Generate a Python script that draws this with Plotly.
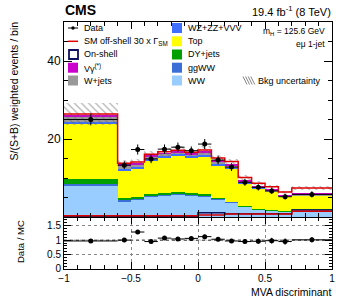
import plotly.graph_objects as go
import numpy as np

# ---------------- data ----------------
bin_edges = [-1.0, -0.6, -0.5, -0.4, -0.3, -0.2, -0.1, 0.0, 0.1, 0.2, 0.3, 0.4, 0.5, 0.6, 0.7, 1.0]

ww      = [8.0, 4.1, 4.5, 5.3, 5.5, 5.7, 5.5, 5.3, 4.4, 3.6, 2.6, 1.9, 1.6, 1.3, 1.8]
ggww    = [0.4, 0.3, 0.3, 0.3, 0.3, 0.3, 0.3, 0.3, 0.3, 0.25, 0.2, 0.15, 0.15, 0.15, 0.2]
dy      = [1.3, 0.4, 0.3, 0.3, 0.35, 0.35, 0.35, 0.3, 0.1, 0.05, 0.05, 0.03, 0.03, 0.03, 0.03]
top     = [14.1, 7.2, 7.4, 8.7, 9.15, 9.35, 9.05, 9.6, 8.5, 8.6, 5.75, 5.3, 4.7, 3.7, 3.4]
wzzz    = [0.6, 0.4, 0.35, 0.35, 0.35, 0.35, 0.35, 0.35, 0.4, 0.3, 0.2, 0.15, 0.15, 0.12, 0.15]
wjets   = [1.3, 0.8, 0.7, 0.6, 0.55, 0.55, 0.55, 0.6, 0.65, 0.45, 0.35, 0.25, 0.25, 0.2, 0.25]
vgamma  = [0.4, 0.3, 0.25, 0.25, 0.2, 0.2, 0.2, 0.25, 0.25, 0.15, 0.15, 0.1, 0.1, 0.08, 0.1]
offshell = [0.3, 0.3, 0.3, 0.3, 0.3, 0.3, 0.3, 0.5, 0.5, 0.8, 0.8, 0.8, 0.8, 0.8, 1.5]
onshell  = [0.15, 0.15, 0.15, 0.15, 0.15, 0.15, 0.15, 1.1, 1.1, 0.85, 0.85, 0.85, 0.85, 0.85, 1.8]
bkg_unc  = [2.8, 0.9, 0.8, 0.9, 1.0, 1.0, 0.9, 1.0, 0.9, 0.8, 0.6, 0.5, 0.5, 0.4, 0.6]

data     = [25.0, 13.3, 17.3, 14.9, 17.4, 17.9, 17.0, 18.7, 14.6, 12.8, 8.9, 7.6, 6.7, 5.2, 5.8]
data_err = [1.5, 1.0, 1.3, 1.1, 1.2, 1.2, 1.1, 1.3, 1.1, 1.0, 0.9, 0.8, 0.8, 0.7, 0.8]

ratio     = [0.97, 1.00, 1.28, 0.95, 1.07, 1.04, 1.06, 1.12, 1.03, 0.97, 0.95, 0.96, 0.98, 0.95, 1.01]
ratio_err = [0.05, 0.06, 0.07, 0.06, 0.06, 0.06, 0.06, 0.06, 0.07, 0.07, 0.08, 0.09, 0.1, 0.11, 0.09]
ratio_band = [0.04] * 15

x_tickvals = [-1, -0.5, 0, 0.5, 1]
x_ticktext = ["\u22121", "\u22120.5", "0", "0.5", "1"]

# ---------------- derived ----------------
e = np.array(bin_edges)
centers = (e[:-1] + e[1:]) / 2
widths = e[1:] - e[:-1]
half = widths / 2

components = [
    ("WW", ww, "#99ccff"),
    ("ggWW", ggww, "#3a6fd8"),
    ("DY+jets", dy, "#00a000"),
    ("Top", top, "#ffff00"),
    ("WZ+ZZ+VVV", wzzz, "#3f6fff"),
    ("W+jets", wjets, "#999999"),
    ("Vgamma", vgamma, "#cc00cc"),
]

FONT = "Liberation Sans, Arial, sans-serif"
fig = go.Figure()

cum = np.zeros(len(centers))
for name, vals, col in components:
    v = np.array(vals)
    fig.add_trace(go.Bar(x=centers, y=v, base=cum.copy(), width=widths,
                         marker=dict(color=col, line=dict(width=0)), opacity=1,
                         xaxis="x2", yaxis="y2", showlegend=False, name=name))
    cum = cum + v
total = cum

def steps(vals):
    return list(e), list(vals) + [vals[-1]]

red_top = total + np.array(offshell)

# bkg uncertainty hatch
unc = np.array(bkg_unc)
fig.add_trace(go.Bar(x=centers, y=2 * unc, base=red_top - unc, width=widths,
                     marker=dict(color="rgba(0,0,0,0)", line=dict(width=0),
                                 pattern=dict(shape="\\", fgcolor="#666666", size=5, solidity=0.25)),
                     xaxis="x2", yaxis="y2", showlegend=False))

sx, sy = steps(red_top)
fig.add_trace(go.Scatter(x=sx, y=sy, mode="lines", line=dict(color="#dd0000", width=1.5, shape="hv"),
                         xaxis="x2", yaxis="y2", showlegend=False))
sx, sy = steps(onshell)
fig.add_trace(go.Scatter(x=sx, y=sy, mode="lines", line=dict(color="#101060", width=1.5, shape="hv"),
                         xaxis="x2", yaxis="y2", showlegend=False))
sx, sy = steps(offshell)
fig.add_trace(go.Scatter(x=sx, y=sy, mode="lines", line=dict(color="#dd0000", width=1.5, shape="hv"),
                         xaxis="x2", yaxis="y2", showlegend=False))

fig.add_trace(go.Scatter(x=centers, y=data, mode="markers",
                         marker=dict(color="black", size=5),
                         error_x=dict(type="data", array=half, width=0, thickness=1, color="black"),
                         error_y=dict(type="data", array=data_err, width=0, thickness=1, color="black"),
                         xaxis="x2", yaxis="y2", showlegend=False))

# ratio panel
rb = np.array(ratio_band)
fig.add_trace(go.Bar(x=centers, y=2 * rb, base=1 - rb, width=widths,
                     marker=dict(color="rgba(0,0,0,0)", line=dict(width=0),
                                 pattern=dict(shape="\\", fgcolor="#888888", size=4, solidity=0.3)),
                     xaxis="x", yaxis="y", showlegend=False))
fig.add_trace(go.Scatter(x=[-1, 1], y=[1, 1], mode="lines", line=dict(color="#555555", width=1, dash="dot"),
                         xaxis="x", yaxis="y", showlegend=False))
fig.add_trace(go.Scatter(x=centers, y=ratio, mode="markers",
                         marker=dict(color="black", size=5),
                         error_x=dict(type="data", array=half, width=0, thickness=1, color="black"),
                         error_y=dict(type="data", array=ratio_err, width=0, thickness=1, color="black"),
                         xaxis="x", yaxis="y", showlegend=False))

SPLIT = 0.2105
axis_common = dict(ticks="inside", showline=True, linecolor="black", linewidth=1, mirror="ticks",
                   tickcolor="black", zeroline=False, automargin=False)

fig.update_layout(
    width=349, height=302,
    margin=dict(l=64, r=17, t=22, b=33),
    paper_bgcolor="white", plot_bgcolor="white",
    barmode="overlay", bargap=0,
    font=dict(family=FONT, color="black", size=10),
    showlegend=False,
    xaxis=dict(domain=[0, 1], range=[-1, 1], anchor="y", tickvals=x_tickvals, ticktext=x_ticktext,
               ticklen=7, minor=dict(dtick=0.1, ticklen=4, ticks="inside", tickcolor="black", showgrid=False),
               showgrid=True, griddash="dot", gridcolor="#888888", gridwidth=1,
               tickfont=dict(size=10), **axis_common),
    yaxis=dict(domain=[0, SPLIT], range=[0, 1.8], anchor="x", tickvals=[0, 0.5, 1, 1.5],
               ticktext=["0", "0.5", "1", "1.5"], ticklen=7,
               minor=dict(dtick=0.1, ticklen=3, ticks="inside", tickcolor="black", showgrid=False),
               showgrid=True, griddash="dot", gridcolor="#888888", gridwidth=1,
               tickfont=dict(size=10), **axis_common),
    xaxis2=dict(domain=[0, 1], range=[-1, 1], anchor="y2", matches="x", showticklabels=False,
                tickvals=x_tickvals, ticklen=7,
                minor=dict(dtick=0.1, ticklen=4, ticks="inside", tickcolor="black", showgrid=False),
                showgrid=False, **axis_common),
    yaxis2=dict(domain=[SPLIT, 1], range=[0, 50], anchor="x2", tickvals=[20, 40], ticklen=8,
                minor=dict(dtick=5, ticklen=4, ticks="inside", tickcolor="black", showgrid=False),
                showgrid=False, tickfont=dict(size=12), **axis_common),
)

def px(xp):
    return (xp - 64) / 268.0

def py(yp):
    return (269 - yp) / 247.0

ann = []
def text(x, y, t, size=9, xanchor="left", yanchor="middle", **kw):
    ann.append(dict(x=px(x), y=py(y), xref="paper", yref="paper", text=t, showarrow=False,
                    xanchor=xanchor, yanchor=yanchor, font=dict(size=size, family=FONT, color="black"), **kw))

text(63, 10, "<b>CMS</b>", size=14)
text(333, 11, "19.4 fb<sup>-1</sup> (8 TeV)", size=11, xanchor="right")
text(327, 31, "m<sub>H</sub> = 125.6 GeV", size=8.5, xanchor="right")
text(327, 44, "e\u03bc 1-jet", size=8.5, xanchor="right")
text(333, 292, "MVA discriminant", size=10.5, xanchor="right")
text(14, 20, "S/(S+B) weighted events / bin", size=10.5, xanchor="center", yanchor="top", textangle=-90)
text(20, 242, "Data / MC", size=9.5, xanchor="center", textangle=-90)

# legend
shapes = []
def rect(x0, y0, x1, y1, fill, line_col=None, lw=0):
    shapes.append(dict(type="rect", xref="paper", yref="paper", x0=px(x0), x1=px(x1), y0=py(y1), y1=py(y0),
                       fillcolor=fill, line=dict(color=line_col or fill, width=lw)))
def hline(x0, x1, y, col, lw):
    shapes.append(dict(type="line", xref="paper", yref="paper", x0=px(x0), x1=px(x1), y0=py(y), y1=py(y),
                       line=dict(color=col, width=lw)))

rows = [28, 41.3, 54.5, 67.7, 80.5]
# col 1
hline(68, 78, rows[0], "black", 1)
shapes.append(dict(type="circle", xref="paper", yref="paper", x0=px(71.3), x1=px(74.7), y0=py(rows[0] + 1.7),
                   y1=py(rows[0] - 1.7), fillcolor="black", line=dict(color="black", width=0)))
text(82, rows[0], "Data")
hline(68, 78, rows[1], "#dd0000", 1.5)
text(82, rows[1], "SM off-shell 30 x \u0393<sub>SM</sub>")
rect(69, rows[2] - 4.5, 78, rows[2] + 4.5, "white", "#101060", 1.8)
text(82, rows[2], "On-shell")
rect(68, rows[3] - 5, 78, rows[3] + 5, "#cc00cc")
text(82, rows[3], "V\u03b3<sup>(*)</sup>")
rect(68, rows[4] - 5, 78, rows[4] + 5, "#999999")
text(82, rows[4], "W+jets")
# col 2
col2 = [("WZ+ZZ+VVV", "#3f6fff"), ("Top", "#ffff00"), ("DY+jets", "#00a000"), ("ggWW", "#3a6fd8"), ("WW", "#99ccff")]
for (lab, c), r in zip(col2, rows):
    rect(172, r - 5, 182, r + 5, c)
    text(186, r, lab)
text(256, rows[4], "Bkg uncertainty")
for k in range(4):
    x0 = 243 + k * 2.6
    shapes.append(dict(type="line", xref="paper", yref="paper", x0=px(x0), x1=px(x0 + 4), y0=py(rows[4] - 4),
                       y1=py(rows[4] + 4), line=dict(color="#666666", width=0.8)))

fig.update_layout(annotations=ann, shapes=shapes)
fig.write_html("out.html", config={"displayModeBar": False},
               post_script="document.body.style.margin='0px';")
